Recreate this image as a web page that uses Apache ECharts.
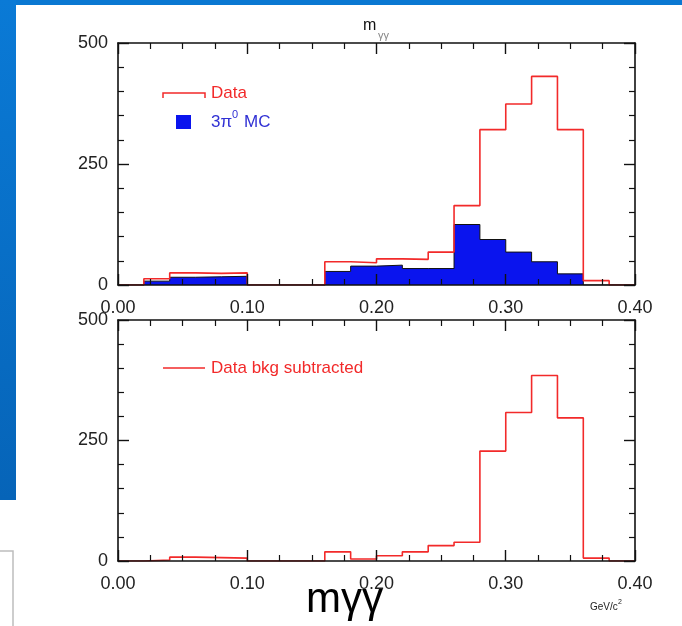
<!DOCTYPE html>
<html>
<head>
<meta charset="utf-8">
<script src="https://cdn.jsdelivr.net/npm/echarts@6/dist/echarts.min.js"></script>
<style>
  html, body { margin: 0; padding: 0; background: #ffffff; }
  #chart { width: 682px; height: 626px; }
</style>
</head>
<body>
<div id="chart"></div>
<script>
// Lower edges of the 0.02 GeV/c^2 wide m(gamma gamma) bins
const binLow = [0.00, 0.02, 0.04, 0.06, 0.08, 0.10, 0.12, 0.14, 0.16, 0.18,
                0.20, 0.22, 0.24, 0.26, 0.28, 0.30, 0.32, 0.34, 0.36, 0.38];
const rangeEnd = 0.40;

// Upper panel: measured data and 3pi0 Monte Carlo
const dataCounts = [0, 13, 25, 24, 25, 0, 0, 0, 48, 46,
                    54, 53, 68, 164, 321, 374, 431, 321, 9, 0];
const mcCounts   = [0, 8, 16, 17, 18, 0, 0, 0, 28, 39,
                    41, 34, 34, 125, 94, 68, 48, 23, 0, 0];

// Lower panel: data after background subtraction
const bkgSubCounts = [0, 2, 8, 7, 6, 0, 0, 0, 19, 4,
                      11, 19, 32, 39, 228, 308, 385, 297, 6, 0];

// Axis ticks
const xMin = 0, xMax = 0.40, xStep = 0.10;
const yMin = 0, yMax = 500, yStep = 250;

const FONT = "'Liberation Sans', Arial, Helvetica, sans-serif";
const RED = '#f22a2a';
const BLUE = '#0a14ee';

// Step-histogram points: one per bin edge, closed at the end of the range
function histPoints(values) {
  const pts = binLow.map((x, i) => [x, values[i]]);
  pts.push([rangeEnd, 0]);
  return pts;
}

const axisLineStyle = { color: '#111', width: 1.6 };
function xAxisFor(grid, position, labels) {
  return {
    type: 'value', gridIndex: grid, position: position, z: 10,
    min: xMin, max: xMax, interval: xStep,
    axisLine: { show: true, onZero: false, lineStyle: axisLineStyle },
    axisTick: { show: true, inside: true, length: 11, lineStyle: { color: '#111', width: 1.4 } },
    minorTick: { show: true, splitNumber: 4, length: 6, lineStyle: { color: '#111', width: 1.2 } },
    splitLine: { show: false },
    axisLabel: {
      show: labels, margin: 14, color: '#222', fontSize: 18, fontFamily: FONT,
      formatter: v => v.toFixed(2)
    }
  };
}
function yAxisFor(grid, position, labels) {
  return {
    type: 'value', gridIndex: grid, position: position, z: 10,
    min: yMin, max: yMax, interval: yStep,
    axisLine: { show: true, onZero: false, lineStyle: axisLineStyle },
    axisTick: { show: true, inside: true, length: 11, lineStyle: { color: '#111', width: 1.4 } },
    minorTick: { show: true, splitNumber: 5, length: 6, lineStyle: { color: '#111', width: 1.2 } },
    splitLine: { show: false },
    axisLabel: { show: labels, margin: 10, padding: [4, 0, 0, 0], color: '#222', fontSize: 18, fontFamily: FONT }
  };
}

const chart = echarts.init(document.getElementById('chart'));

const option = {
  backgroundColor: '#ffffff',
  animation: false,
  grid: [
    { left: 118, top: 43, width: 517, height: 242 },
    { left: 118, top: 320, width: 517, height: 241 }
  ],
  xAxis: [
    xAxisFor(0, 'bottom', true),
    xAxisFor(0, 'top', false),
    xAxisFor(1, 'bottom', true),
    xAxisFor(1, 'top', false)
  ],
  yAxis: [
    yAxisFor(0, 'left', true),
    yAxisFor(0, 'right', false),
    yAxisFor(1, 'left', true),
    yAxisFor(1, 'right', false)
  ],
  series: [
    {
      name: '3π0 MC', type: 'line', step: 'end', xAxisIndex: 0, yAxisIndex: 0,
      data: histPoints(mcCounts), symbol: 'none', z: 2,
      lineStyle: { color: '#111', width: 1 },
      areaStyle: { color: BLUE, opacity: 1 }
    },
    {
      name: 'Data', type: 'line', step: 'end', xAxisIndex: 0, yAxisIndex: 0,
      data: histPoints(dataCounts), symbol: 'none', z: 3,
      lineStyle: { color: RED, width: 1.6 }
    },
    {
      name: 'Data bkg subtracted', type: 'line', step: 'end', xAxisIndex: 2, yAxisIndex: 2,
      data: histPoints(bkgSubCounts), symbol: 'none', z: 3,
      lineStyle: { color: RED, width: 1.6 }
    }
  ],
  graphic: [
    // slide frame
    { type: 'rect', shape: { x: 0, y: 0, width: 682, height: 5 }, silent: true,
      style: { fill: '#0a78d2' } },
    { type: 'rect', shape: { x: 0, y: 0, width: 16, height: 500 }, silent: true,
      style: { fill: new echarts.graphic.LinearGradient(0, 0, 0, 1, [
        { offset: 0, color: '#0a7ad6' }, { offset: 1, color: '#0664b8' }]) } },
    { type: 'polyline', shape: { points: [[0, 551], [13, 551], [13, 626]] }, silent: true,
      style: { stroke: '#bdbdbd', lineWidth: 1.5, fill: null } },

    // panel title
    { type: 'text', left: 363, top: 18, silent: true,
      style: { text: 'm', font: '16px ' + FONT, fill: '#111' } },
    { type: 'text', left: 378, top: 30, silent: true,
      style: { text: 'γγ', font: '11px ' + FONT, fill: '#888' } },

    // upper legend
    { type: 'polyline', shape: { points: [[163, 98], [163, 93], [205, 93], [205, 98]] }, silent: true,
      style: { stroke: RED, lineWidth: 1.5, fill: null } },
    { type: 'text', left: 211, top: 85, silent: true,
      style: { text: 'Data', font: '17px ' + FONT, fill: RED } },
    { type: 'rect', shape: { x: 176, y: 115, width: 15, height: 14 }, silent: true,
      style: { fill: BLUE } },
    { type: 'text', left: 211, top: 114, silent: true,
      style: { text: '3π', font: '17px ' + FONT, fill: '#3030d4' } },
    { type: 'text', left: 232, top: 109, silent: true,
      style: { text: '0', font: '11px ' + FONT, fill: '#3030d4' } },
    { type: 'text', left: 244, top: 114, silent: true,
      style: { text: 'MC', font: '17px ' + FONT, fill: '#3030d4' } },

    // lower legend
    { type: 'line', shape: { x1: 163, y1: 368, x2: 205, y2: 368 }, silent: true,
      style: { stroke: RED, lineWidth: 1.5 } },
    { type: 'text', left: 211, top: 360, silent: true,
      style: { text: 'Data bkg subtracted', font: '17px ' + FONT, fill: RED } },

    // axis title and unit
    { type: 'text', left: 306, top: 579, silent: true,
      style: { text: 'mγγ', font: '42px ' + FONT, fill: '#000' } },
    { type: 'text', left: 590, top: 602, silent: true,
      style: { text: 'GeV/c', font: '10px ' + FONT, fill: '#222' } },
    { type: 'text', left: 618, top: 599, silent: true,
      style: { text: '2', font: '7px ' + FONT, fill: '#222' } }
  ]
};

chart.setOption(option);
</script>
</body>
</html>
